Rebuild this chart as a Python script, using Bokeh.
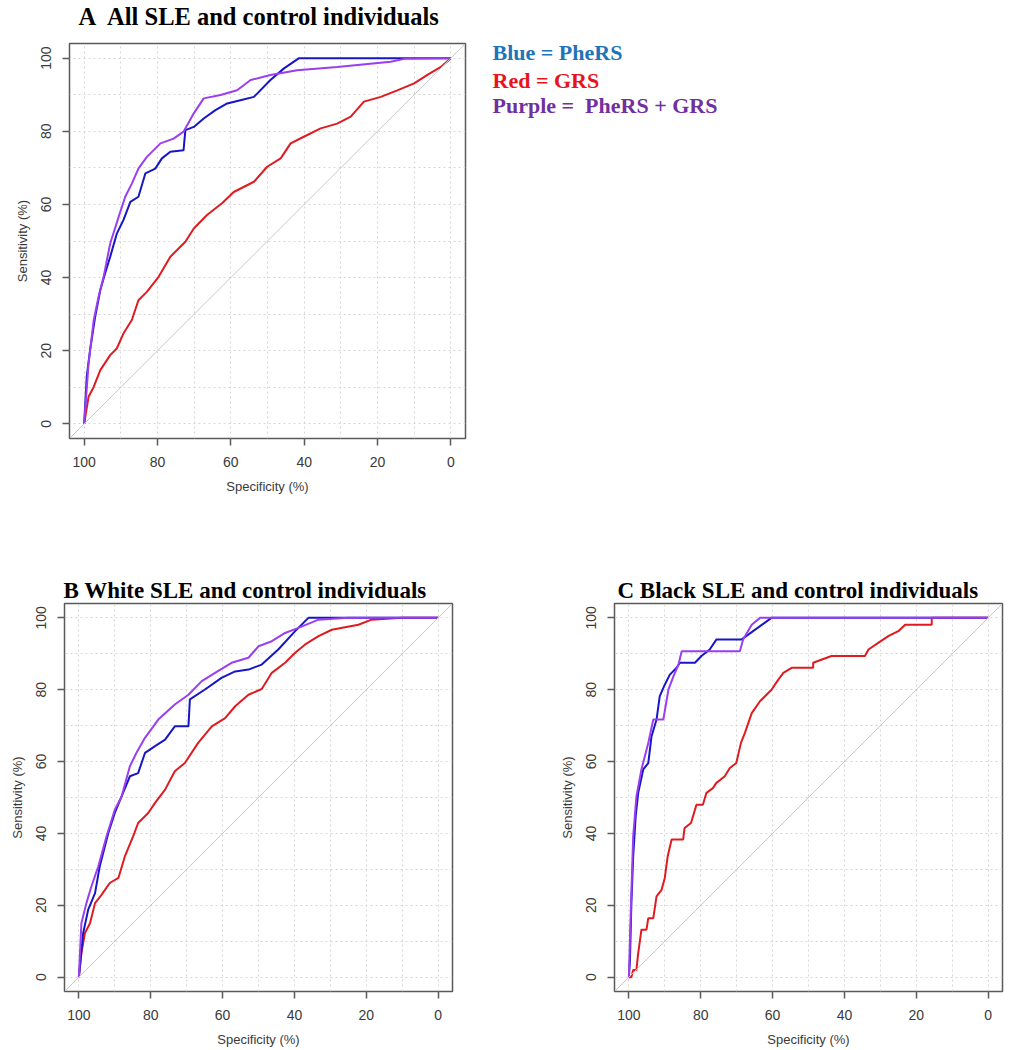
from bokeh.plotting import figure
from bokeh.models import Range1d, FixedTicker, Slope, Label, Title
from bokeh.layouts import column, row
from bokeh.embed import file_html
from bokeh.resources import INLINE

# ---------------- data (specificity %, sensitivity %) ----------------
# Panel A: all SLE and control individuals
a_red_spec = [100, 98.8, 97.4, 95.6, 92.9, 91.1, 89.3, 87.0, 85.2, 82.9, 79.7, 76.5, 72.4, 70.1, 66.5, 62.4,
              59.2, 53.7, 50.1, 46.4, 43.7, 40.1, 35.5, 31.0, 27.3, 23.7, 19.1, 14.6, 10.0, 6.4, 2.7, 0]
a_red_sens = [0, 7.4, 10.1, 14.7, 18.8, 20.6, 24.7, 28.4, 33.8, 36.1, 40.2, 45.7, 49.8, 53.4, 57.1, 60.3,
              63.4, 66.2, 70.3, 72.6, 76.7, 78.5, 80.8, 82.1, 84.0, 88.1, 89.4, 91.2, 93.1, 95.4, 97.6, 100]
a_blue_spec = [100, 99.3, 98.4, 97.0, 95.6, 94.3, 92.9, 91.1, 89.3, 87.4, 85.2, 83.3, 80.6, 78.8, 76.5, 72.9,
               72.4, 70.1, 67.4, 64.2, 61.0, 57.4, 53.7, 49.2, 45.5, 41.4, 11.8, 0]
a_blue_sens = [0, 12.9, 20.1, 29.3, 36.6, 41.1, 45.7, 52.0, 55.7, 60.7, 62.1, 68.5, 69.8, 72.6, 74.4, 74.8,
               80.3, 81.2, 83.5, 85.8, 87.6, 88.5, 89.4, 94.0, 97.2, 100, 100, 100]
a_purple_spec = [100, 98.8, 97.4, 96.1, 94.7, 92.9, 90.6, 88.8, 87.0, 85.2, 82.9, 79.2, 75.6, 72.9, 70.1, 67.4,
                 62.8, 58.3, 54.6, 49.2, 41.9, 31.0, 16.4, 12.7, 0]
a_purple_sens = [0, 16.5, 28.3, 34.7, 40.2, 49.3, 56.6, 62.1, 65.7, 69.8, 73.0, 76.7, 78.0, 79.9, 84.9, 89.0,
                 89.9, 91.2, 94.0, 95.4, 96.7, 97.6, 99.0, 99.8, 100]

# Panel B: White SLE and control individuals
b_red_spec = [100, 99.3, 98.3, 96.9, 95.5, 93.7, 91.4, 89.0, 87.2, 84.9, 83.5, 80.7, 78.8, 76.0, 73.3, 70.5,
              66.8, 63.0, 59.3, 56.5, 52.8, 49.1, 46.3, 42.6, 39.8, 37.0, 33.3, 29.6, 22.2, 18.5, 10.1, 0]
b_red_sens = [0, 6.7, 12.3, 15.0, 20.6, 22.9, 26.2, 27.6, 33.6, 39.2, 42.9, 45.7, 48.5, 52.2, 57.3, 59.6,
              65.2, 69.8, 72.1, 75.4, 78.6, 80.2, 84.7, 87.5, 90.3, 92.6, 94.9, 96.7, 98.1, 99.5, 100, 100]
b_blue_spec = [100, 98.8, 97.4, 95.5, 94.2, 91.8, 90.0, 87.7, 85.8, 83.5, 81.6, 78.8, 76.0, 73.3, 69.5, 69.1,
               65.0, 60.3, 56.5, 52.8, 49.1, 44.5, 39.8, 36.1, 25.0, 0]
b_blue_sens = [0, 12.3, 18.8, 23.4, 30.8, 40.1, 45.7, 51.3, 55.9, 56.8, 62.4, 64.3, 66.1, 69.8, 69.8, 77.3,
               80.0, 83.3, 85.1, 85.6, 87.0, 91.2, 96.3, 100, 100, 100]
b_purple_spec = [100, 99.3, 97.9, 96.5, 94.6, 92.3, 90.0, 88.1, 85.8, 84.0, 81.6, 77.9, 73.3, 69.5, 65.8, 62.1,
                 57.5, 52.8, 50.0, 46.3, 42.6, 38.9, 33.3, 25.0, 0]
b_purple_sens = [0, 15.0, 20.6, 25.3, 30.8, 39.2, 46.6, 50.3, 58.7, 62.4, 66.6, 71.7, 75.9, 78.6, 82.4, 84.7,
                 87.5, 88.9, 92.1, 93.5, 95.8, 97.2, 99.5, 100, 100]

# Panel C: Black SLE and control individuals
c_red_spec = [100, 99.3, 98.8, 97.9, 97.4, 96.5, 95.1, 94.6, 93.2, 92.3, 90.9, 90.0, 89.2, 88.1, 84.9, 84.5,
              82.7, 81.2, 79.4, 78.4, 76.6, 75.7, 73.3, 71.9, 70.1, 68.8, 67.7, 65.8, 63.5, 62.1, 60.3, 58.4,
              57.0, 54.7, 48.7, 48.7, 43.6, 34.3, 33.3, 30.5, 27.8, 25.0, 23.1, 15.7, 15.7, 0]
c_red_sens = [0, 0, 2.0, 2.0, 6.7, 13.2, 13.2, 16.4, 16.4, 22.5, 24.3, 27.6, 33.6, 38.3, 38.3, 41.5,
              42.9, 48.0, 48.0, 51.3, 52.6, 54.0, 55.9, 58.2, 59.6, 65.2, 68.0, 73.5, 76.8, 78.2, 80.0, 82.8,
              84.7, 86.1, 86.1, 87.5, 89.4, 89.4, 91.2, 93.1, 94.9, 96.3, 98.1, 98.1, 100, 100]
c_blue_spec = [100, 99.7, 99.3, 98.8, 98.1, 97.4, 96.0, 94.6, 93.7, 92.3, 91.4, 90.0, 88.6, 86.7, 85.8, 81.6,
               79.8, 77.5, 75.6, 68.6, 60.3, 0]
c_blue_sens = [0, 4.6, 20.6, 33.6, 44.8, 51.3, 57.8, 59.6, 67.0, 71.7, 78.2, 81.4, 84.2, 86.1, 87.5, 87.5,
               89.4, 91.2, 94.0, 94.0, 100, 100]
c_purple_spec = [100, 99.4, 98.8, 97.9, 96.5, 94.6, 93.2, 90.4, 89.0, 87.6, 86.2, 85.3, 69.1, 68.2, 65.8, 63.5, 0]
c_purple_sens = [0, 20.6, 39.2, 50.3, 57.8, 65.2, 71.7, 71.7, 80.0, 83.7, 87.0, 90.7, 90.7, 94.0, 98.1, 100, 100]

TICKS = [0, 20, 40, 60, 80, 100]
GRID = [0, 10, 20, 30, 40, 50, 60, 70, 80, 90, 100]

TITLES = ["A\u00a0 All SLE and control individuals",
          "B White SLE and control individuals",
          "C Black SLE and control individuals"]
LEGEND_TEXT = ["Blue = PheRS", "Red = GRS", "Purple =\u00a0 PheRS + GRS"]
LEGEND_COLORS = ["#1f73b8", "#e8141c", "#7030a0"]

RED, BLUE, PURPLE = "#e01b1f", "#1616c8", "#9b3ef0"
AX_COLOR = "#5a5a5a"
TXT_COLOR = "#3a3a3a"


def make_panel(curves, title, title_size, title_offset, title_standoff, fw, fh, bl, bt, br, bb):
    p = figure(frame_width=fw, frame_height=fh, title=title,
               min_border_left=bl, min_border_top=bt, min_border_right=br, min_border_bottom=bb,
               x_range=Range1d(104, -4), y_range=Range1d(-4, 104),
               output_backend="svg", toolbar_location=None,
               background_fill_color="white", border_fill_color="white")
    p.title.text_font = "Liberation Serif"
    p.title.text_font_style = "bold"
    p.title.text_font_size = title_size
    p.title.text_color = "black"
    p.title.align = "left"
    p.title.offset = title_offset
    p.title.standoff = title_standoff
    p.outline_line_color = AX_COLOR
    p.outline_line_width = 1.5
    for ax in (p.xaxis[0], p.yaxis[0]):
        ax.ticker = FixedTicker(ticks=TICKS)
        ax.axis_line_color = None
        ax.major_tick_line_color = AX_COLOR
        ax.major_tick_line_width = 1.5
        ax.major_tick_in = 0
        ax.major_tick_out = 7
        ax.minor_tick_line_color = None
        ax.major_label_text_font = "Liberation Sans"
        ax.major_label_text_font_size = "14px"
        ax.major_label_text_color = TXT_COLOR
        ax.axis_label_text_font = "Liberation Sans"
        ax.axis_label_text_font_size = "13px"
        ax.axis_label_text_font_style = "normal"
        ax.axis_label_text_color = TXT_COLOR
        ax.major_label_standoff = 11
        ax.axis_label_standoff = 9
    p.xaxis.axis_label = "Specificity (%)"
    p.yaxis.axis_label = "Sensitivity (%)"
    p.yaxis.major_label_orientation = "vertical"
    for g in (p.xgrid[0], p.ygrid[0]):
        g.ticker = FixedTicker(ticks=GRID)
        g.grid_line_color = "#d6d6d6"
        g.grid_line_dash = "2 3"
        g.grid_line_width = 1
    p.add_layout(Slope(gradient=-1, y_intercept=100, line_color="#c8c8c8", line_width=1))
    for spec, sens, col in curves:
        p.line(spec, sens, line_color=col, line_width=2)
    return p


pA = make_panel([(a_red_spec, a_red_sens, RED), (a_blue_spec, a_blue_sens, BLUE),
                 (a_purple_spec, a_purple_sens, PURPLE)],
                TITLES[0], "24.5px", 9, 0, 396, 395, 69, 43, 10, 102)
# thin spacer between panel A's title and its frame
pA.add_layout(Title(text=" ", text_font_size="1px", standoff=11), "above")

# legend text panel to the right of panel A (coordinates in page pixels)
pL = figure(frame_width=535, frame_height=395, min_border_left=0, min_border_right=0,
            min_border_top=43, min_border_bottom=102,
            x_range=Range1d(475, 1010), y_range=Range1d(438, 43),
            output_backend="svg", toolbar_location=None,
            background_fill_color="white", border_fill_color="white")
pL.axis.visible = False
pL.grid.visible = False
pL.outline_line_color = None
for txt, col, yy in zip(LEGEND_TEXT, LEGEND_COLORS, [52, 80, 105]):
    pL.add_layout(Label(x=492, y=yy, text=txt, text_font="Liberation Serif", text_font_style="bold",
                        text_font_size="22px", text_align="left", text_baseline="alphabetic",
                        text_color=col))

pB = make_panel([(b_red_spec, b_red_sens, RED), (b_blue_spec, b_blue_sens, BLUE),
                 (b_purple_spec, b_purple_sens, PURPLE)],
                TITLES[1], "23px", -1, 2, 388, 388, 64, 63, 88, 58)

pC = make_panel([(c_red_spec, c_red_sens, RED), (c_blue_spec, c_blue_sens, BLUE),
                 (c_purple_spec, c_purple_sens, PURPLE)],
                TITLES[2], "23px", 3, 2, 388, 388, 74, 63, 8, 58)

layout = column(row(pA, pL, spacing=0), row(pB, pC, spacing=0), spacing=0)

open("out.html", "w").write(file_html(layout, INLINE))
